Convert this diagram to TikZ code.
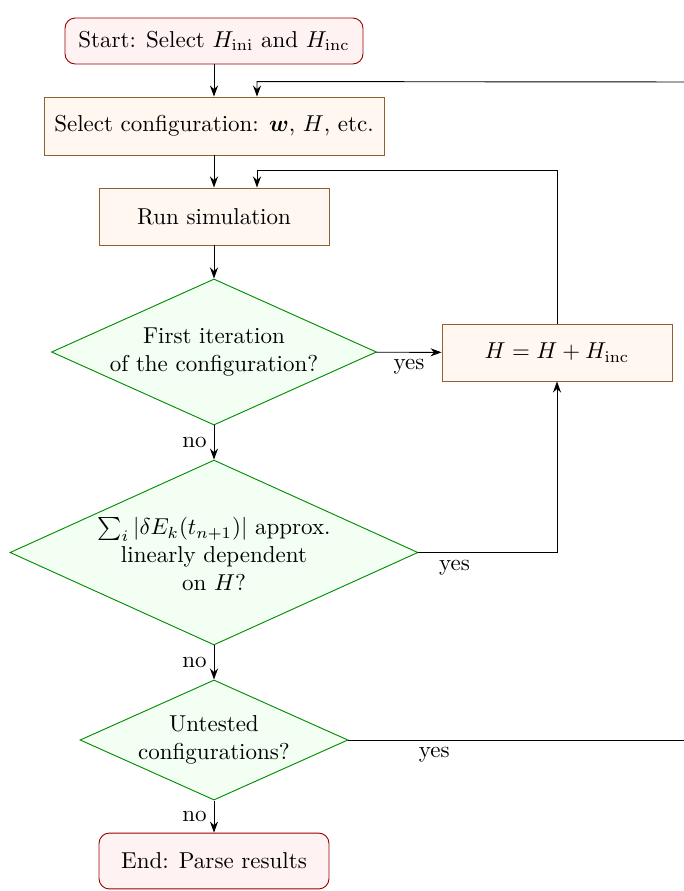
\documentclass[tikz,border=0pt]{standalone}
\usepackage{amsmath}
\usetikzlibrary{shapes.geometric,arrows.meta,calc}
\begin{document}
\begin{tikzpicture}[x=0.4348pt,y=-0.4348pt,
  every node/.style={font=\normalsize},
  term/.style={draw=red!60!black,fill=red!5,rounded corners=4.5pt,minimum height=20pt,inner sep=0pt,align=center},
  proc/.style={draw=brown!75!black,fill=orange!6,minimum height=24.8pt,inner sep=0pt,align=center},
  decision/.style={draw=green!55!black,fill=green!5,diamond,inner sep=0pt},
  dtext/.style={align=center,inner sep=0pt},
  arrow/.style={-{Stealth[length=4.8pt,width=3.5pt]},line width=0.4pt},
  plain/.style={line width=0.4pt},
  lab/.style={inner sep=3pt}
]
\clip (0,0) rectangle (684,891);

\node[term,minimum width=129.6pt] (start) at (214,41) {Start: Select $H_{\mathrm{ini}}$ and $H_{\mathrm{inc}}$};
\node[proc,minimum width=147.8pt,minimum height=25.2pt] (sel) at (214,126) {Select configuration: $\boldsymbol{w}$, $H$, etc.};
\node[proc,minimum width=100pt] (run) at (214,216.5) {Run simulation};
\node[decision,minimum width=141.3pt,minimum height=63.5pt] (d1) at (214,352) {};
\node[dtext] (d1t) at (214,352) {First iteration\\of the configuration?};
\node[proc,minimum width=100pt] (hbox) at (557,352.5) {$H = H + H_{\mathrm{inc}}$};
\node[decision,minimum width=177.4pt,minimum height=80.4pt] (d2) at (214,552.5) {};
\node[dtext] (d2t) at (214,554) {$\sum_i|\delta E_k(t_{n+1})|$ approx.\\linearly dependent\\on $H$?};
\node[decision,minimum width=116.5pt,minimum height=52.2pt] (d3) at (214,740) {};
\node[dtext] (d3t) at (214,740) {Untested\\configurations?};
\node[term,minimum width=100pt,minimum height=24.3pt] (end) at (214,861) {End: Parse results};

\coordinate (rr) at (700,82);

\draw[arrow] (start) -- (sel);
\draw[arrow] (sel) -- (run);
\draw[arrow] (run) -- (d1);
\draw[arrow] (d1) -- node[below,lab,pos=0.5]{yes} (hbox);
\draw[arrow] (hbox.north) |- ($(run.north)+(43,-17)$) -- ($(run.north)+(43,0)$);
\draw[arrow] (d1) -- node[left,lab]{no} (d2);
\draw[arrow] (d2.east) -| node[below,lab,pos=0.13]{yes} (hbox.south);
\draw[arrow] (d2) -- node[left,lab]{no} (d3);
\draw[plain] (d3.east) -- node[below,lab,pos=0.244]{yes} (d3.east -| rr) -- (rr);
\draw[arrow] (rr) -- ($(sel.north)+(43,-15)$) -- ($(sel.north)+(43,0)$);
\draw[arrow] (d3) -- node[left,lab]{no} (end);
\end{tikzpicture}
\end{document}
